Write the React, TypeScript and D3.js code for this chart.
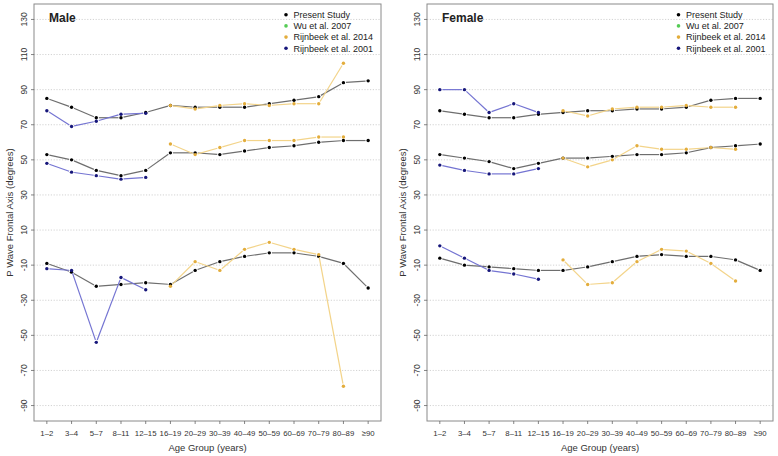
import React from "react";
import * as d3 from "d3";

const categories = ["1–2","3–4","5–7","8–11","12–15","16–19","20–29","30–39","40–49","50–59","60–69","70–79","80–89","≥90"];
const yTicks = [-90, -70, -50, -30, -10, 10, 30, 50, 70, 90, 110, 130];
const legendLabels = ["Present Study", "Wu et al. 2007", "Rijnbeek et al. 2014", "Rijnbeek et al. 2001"];

type V = number | null;
const _ = null;

// Male
const malePresentUpper: V[] = [85, 80, 74, 74, 77, 81, 80, 80, 80, 82, 84, 86, 94, 95];
const malePresentMid: V[] = [53, 50, 44, 41, 44, 54, 54, 53, 55, 57, 58, 60, 61, 61];
const malePresentLow: V[] = [-9, -14, -22, -21, -20, -21, -13, -8, -5, -3, -3, -5, -9, -23];
const maleR2014Upper: V[] = [_, _, _, _, _, 81, 79, 81, 82, 81, 82, 82, 105, _];
const maleR2014Mid: V[] = [_, _, _, _, _, 59, 53, 57, 61, 61, 61, 63, 63, _];
const maleR2014Low: V[] = [_, _, _, _, _, -22, -8, -13, -1, 3, -1, -4, -79, _];
const maleR2001Upper: V[] = [78, 69, 72, 76, 76.5, _, _, _, _, _, _, _, _, _];
const maleR2001Mid: V[] = [48, 43, 41, 39, 40, _, _, _, _, _, _, _, _, _];
const maleR2001Low: V[] = [-12, -13, -54, -17, -24, _, _, _, _, _, _, _, _, _];

// Female
const femalePresentUpper: V[] = [78, 76, 74, 74, 76, 77, 78, 78, 79, 79, 80, 84, 85, 85];
const femalePresentMid: V[] = [53, 51, 49, 45, 48, 51, 51, 52, 53, 53, 54, 57, 58, 59];
const femalePresentLow: V[] = [-6, -10, -11, -12, -13, -13, -11, -8, -5, -4, -5, -5, -7, -13];
const femaleR2014Upper: V[] = [_, _, _, _, _, 78, 75, 79, 80, 80, 81, 80, 80, _];
const femaleR2014Mid: V[] = [_, _, _, _, _, 51, 46, 50, 58, 56, 56, 57, 56, _];
const femaleR2014Low: V[] = [_, _, _, _, _, -7, -21, -20, -8, -1, -2, -9, -19, _];
const femaleR2001Upper: V[] = [90, 90, 77, 82, 77, _, _, _, _, _, _, _, _, _];
const femaleR2001Mid: V[] = [47, 44, 42, 42, 45, _, _, _, _, _, _, _, _, _];
const femaleR2001Low: V[] = [1, -6, -13, -15, -18, _, _, _, _, _, _, _, _, _];

const COL = {
  present: { dot: "#000000", line: "#6e6e6e" },
  wu: { dot: "#55cc55", line: "#55cc55" },
  r2014: { dot: "#e3ad3c", line: "#f3d48a" },
  r2001: { dot: "#16167a", line: "#7474d2" },
};
const legendColors = [COL.present.dot, COL.wu.dot, COL.r2014.dot, COL.r2001.dot];

const FONT = "'Liberation Sans', Arial, Helvetica, sans-serif";

type Series = { values: V[]; color: { dot: string; line: string } };

function Panel({ title, x0, x1, series, legendX }: { title: string; x0: number; x1: number; series: Series[]; legendX: number }) {
  const y0 = 4, y1 = 421;
  const x = d3.scaleLinear().domain([0.48, 14.52]).range([x0, x1]);
  const y = d3.scaleLinear().domain([-98.8, 138.8]).range([y1, y0]);
  const gap = 2.6;

  const renderSeries = (s: Series, si: number) => {
    const pts = s.values
      .map((v, i) => (v === null ? null : [x(i + 1), y(v)] as [number, number]))
      .filter((p): p is [number, number] => p !== null);
    const segs: JSX.Element[] = [];
    for (let i = 0; i < pts.length - 1; i++) {
      const [ax, ay] = pts[i];
      const [bx, by] = pts[i + 1];
      const dx = bx - ax, dy = by - ay;
      const len = Math.hypot(dx, dy);
      if (len <= gap * 2) continue;
      const ux = dx / len, uy = dy / len;
      segs.push(
        <line key={`s${si}-${i}`} x1={ax + ux * gap} y1={ay + uy * gap} x2={bx - ux * gap} y2={by - uy * gap}
          stroke={s.color.line} strokeWidth={1.2} />
      );
    }
    return (
      <g key={`ser${si}`}>
        {segs}
        {pts.map((p, i) => (
          <circle key={`p${si}-${i}`} cx={p[0]} cy={p[1]} r={1.7} fill={s.color.dot} />
        ))}
      </g>
    );
  };

  return (
    <g>
      {yTicks.map((t) => (
        <line key={`g${t}`} x1={x0} x2={x1} y1={y(t)} y2={y(t)} stroke="#c8c8c8" strokeWidth={0.8} strokeDasharray="1.2,1.6" />
      ))}
      <rect x={x0} y={y0} width={x1 - x0} height={y1 - y0} fill="none" stroke="#8a8a8a" strokeWidth={1} />
      {yTicks.map((t) => (
        <g key={`yt${t}`}>
          <line x1={x0} x2={x0 - 3} y1={y(t)} y2={y(t)} stroke="#666" strokeWidth={0.8} />
          <text transform={`translate(${x0 - 7},${y(t)}) rotate(-90)`} textAnchor="middle" fontSize={8.5} fill="#333" fontFamily={FONT}>{t}</text>
        </g>
      ))}
      {categories.map((c, i) => (
        <g key={`xt${i}`}>
          <line x1={x(i + 1)} x2={x(i + 1)} y1={y1} y2={y1 + 3} stroke="#666" strokeWidth={0.8} />
          <text x={x(i + 1)} y={y1 + 15} textAnchor="middle" fontSize={7.8} fill="#333" fontFamily={FONT}>{c}</text>
        </g>
      ))}
      <text x={(x0 + x1) / 2} y={451} textAnchor="middle" fontSize={9.5} fill="#333" fontFamily={FONT}>Age Group (years)</text>
      <text transform={`translate(${x0 - 21},${(y0 + y1) / 2}) rotate(-90)`} textAnchor="middle" fontSize={9.5} fill="#333" fontFamily={FONT}>P Wave Frontal Axis (degrees)</text>
      <text x={x0 + 15} y={22} fontSize={12} fontWeight="bold" fill="#222" fontFamily={FONT}>{title}</text>
      {series.map(renderSeries)}
      {legendLabels.map((l, i) => (
        <g key={`lg${i}`}>
          <circle cx={legendX} cy={14.7 + i * 11.2} r={1.8} fill={legendColors[i]} />
          <text x={legendX + 7.5} y={14.7 + i * 11.2 + 3.2} fontSize={9} fill="#222" fontFamily={FONT}>{l}</text>
        </g>
      ))}
    </g>
  );
}

export default function App() {
  const maleSeries: Series[] = [
    { values: malePresentUpper, color: COL.present },
    { values: malePresentMid, color: COL.present },
    { values: malePresentLow, color: COL.present },
    { values: maleR2014Upper, color: COL.r2014 },
    { values: maleR2014Mid, color: COL.r2014 },
    { values: maleR2014Low, color: COL.r2014 },
    { values: maleR2001Upper, color: COL.r2001 },
    { values: maleR2001Mid, color: COL.r2001 },
    { values: maleR2001Low, color: COL.r2001 },
  ];
  const femaleSeries: Series[] = [
    { values: femalePresentUpper, color: COL.present },
    { values: femalePresentMid, color: COL.present },
    { values: femalePresentLow, color: COL.present },
    { values: femaleR2014Upper, color: COL.r2014 },
    { values: femaleR2014Mid, color: COL.r2014 },
    { values: femaleR2014Low, color: COL.r2014 },
    { values: femaleR2001Upper, color: COL.r2001 },
    { values: femaleR2001Mid, color: COL.r2001 },
    { values: femaleR2001Low, color: COL.r2001 },
  ];
  return (
    <svg width={778} height={456} style={{ position: "absolute", left: 0, top: 0, background: "#fff" }}>
      <rect width={778} height={456} fill="#fff" />
      <Panel title="Male" x0={34} x1={381} series={maleSeries} legendX={286} />
      <Panel title="Female" x0={427} x1={773} series={femaleSeries} legendX={678.5} />
    </svg>
  );
}
